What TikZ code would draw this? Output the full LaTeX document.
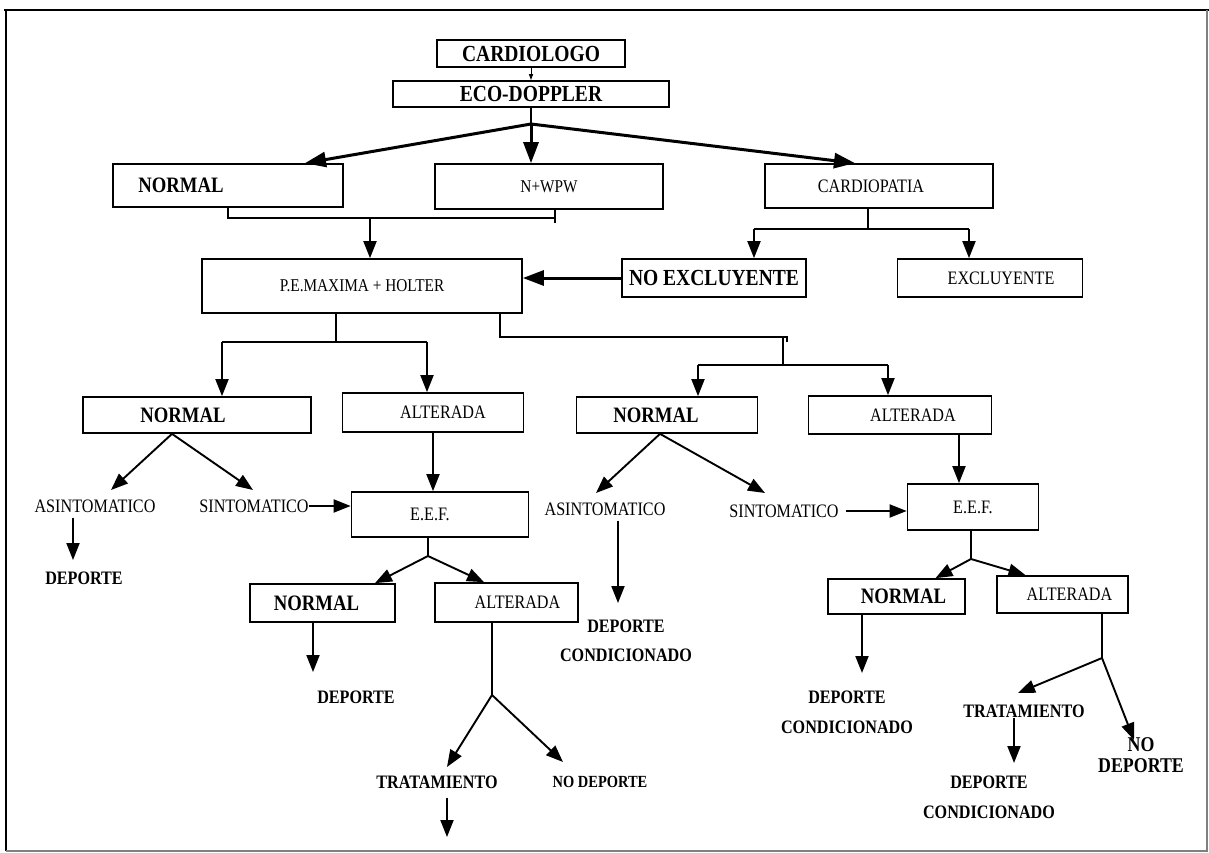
\documentclass[tikz,border=0pt]{standalone}
\usepackage{fontspec}
\setmainfont{Liberation Serif}[FakeStretch=0.85]
\usetikzlibrary{arrows.meta,calc}
\newcommand\shtxt[2]{\hspace*{#1}#2\hspace*{-#1}}
\begin{document}
\begin{tikzpicture}[x=1pt,y=-1pt,
 box/.style={draw,line width=1.7pt,inner sep=0pt},
 fb/.style={font=\fontsize{23}{26}\selectfont\bfseries},
 fn/.style={font=\fontsize{22}{25}\selectfont\bfseries},
 fr/.style={font=\fontsize{19}{22}\selectfont},
 fs/.style={font=\fontsize{18}{21}\selectfont},
 fsb/.style={font=\fontsize{19}{22}\selectfont\bfseries},
 dcond/.style={inner sep=0pt,align=center,font=\fontsize{19}{29.5}\selectfont\bfseries},
 lbl/.style={inner sep=0pt},
 ln/.style={line width=1.9pt},
 arr/.style={line width=1.9pt,-{Triangle[length=17pt,width=13pt]}},
 bigarr/.style={line width=3pt,-{Triangle[length=21pt,width=15pt]}},
 smarr/.style={line width=1pt,-{Triangle[length=6pt,width=4pt]}},
]
\useasboundingbox (0,0) rectangle (1209,853);
% frame
\draw[line width=2.5pt] (4,10) -- (1209,10);
\draw[line width=2pt] (6,10) -- (6,851);
\draw[line width=1.2pt,gray] (6,851) -- (1207,851) -- (1207,10);

% boxes
\node[box,fb,minimum width=188,minimum height=27] (card) at (531,53.5) {CARDIOLOGO};
\node[box,fb,minimum width=276,minimum height=26] (eco) at (531,94) {ECO-DOPPLER};
\node[box,fn,minimum width=230,minimum height=43] (normA) at (228,185.5) {\shtxt{-47pt}{NORMAL}};
\node[box,fs,minimum width=228,minimum height=45] (nwpw) at (549,186.5) {N+WPW};
\node[box,fr,minimum width=228,minimum height=44] (cardp) at (879,186) {\shtxt{-8pt}{CARDIOPATIA}};
\node[box,fs,minimum width=320,minimum height=54] (pe) at (362,286) {P.E.MAXIMA + HOLTER};
\node[box,fb,minimum width=184,minimum height=38] (noex) at (714,278) {NO EXCLUYENTE};
\node[box,fr,minimum width=185,minimum height=38] (excl) at (990,278) {\shtxt{11pt}{EXCLUYENTE}};
\node[box,fn,minimum width=228,minimum height=36] (normB) at (197,415) {\shtxt{-14pt}{NORMAL}};
\node[box,fr,minimum width=181,minimum height=39] (altB) at (433,412.5) {\shtxt{10pt}{ALTERADA}};
\node[box,fn,minimum width=181,minimum height=36] (normC) at (667,415) {\shtxt{-11pt}{NORMAL}};
\node[box,fr,minimum width=183,minimum height=38] (altC) at (900,415) {\shtxt{13pt}{ALTERADA}};
\node[box,fr,minimum width=177,minimum height=45] (eef1) at (440,514.5) {\shtxt{-10pt}{E.E.F.}};
\node[box,fr,minimum width=131,minimum height=46] (eef2) at (973,507) {E.E.F.};
\node[box,fn,minimum width=145,minimum height=38] (normD) at (322.5,603) {\shtxt{-6pt}{NORMAL}};
\node[box,fr,minimum width=143,minimum height=39] (altD) at (506.5,602.5) {\shtxt{11pt}{ALTERADA}};
\node[box,fn,minimum width=137,minimum height=35] (normE) at (896.5,596.5) {\shtxt{7pt}{NORMAL}};
\node[box,fr,minimum width=131,minimum height=37] (altE) at (1062.5,594.5) {\shtxt{7pt}{ALTERADA}};

% labels
\node[lbl,fr] (asin1) at (95,506) {ASINTOMATICO};
\node[lbl,fr] (sin1) at (254,506) {SINTOMATICO};
\node[lbl,fsb] (dep1) at (84,578) {DEPORTE};
\node[lbl,fsb] (dep2) at (356,697) {DEPORTE};
\node[lbl,fsb] (trat1) at (437,782) {TRATAMIENTO};
\node[lbl,font=\fontsize{17}{20}\selectfont\bfseries] (nodep1) at (600,782) {NO DEPORTE};
\node[lbl,fr] (asin2) at (605,509) {ASINTOMATICO};
\node[lbl,fr] (sin2) at (784,511) {SINTOMATICO};
\node[dcond] (dc1) at (626,641) {DEPORTE\\CONDICIONADO};
\node[dcond] (dc2) at (847,712.5) {DEPORTE\\CONDICIONADO};
\node[lbl,fsb] (trat2) at (1024,711) {TRATAMIENTO};
\node[inner sep=0pt,align=center,font=\fontsize{21}{21}\selectfont\bfseries] (nodep2) at (1141,755) {NO\\DEPORTE};
\node[dcond] (dc3) at (989,797.5) {DEPORTE\\CONDICIONADO};

% coordinates
\coordinate (j0) at (531,124);
\coordinate (b1) at (228,218); \coordinate (b2) at (555,218);
\coordinate (b2e) at (555,223); \coordinate (b3) at (370,218);
\coordinate (c0) at (868,229); \coordinate (c1) at (754,229); \coordinate (c2) at (969,229);
\coordinate (d0) at (336,342); \coordinate (d1) at (222,342); \coordinate (d2) at (427,342);
\coordinate (e0) at (500,337); \coordinate (e1) at (787,337); \coordinate (e1b) at (787,342);
\coordinate (e2a) at (783,337); \coordinate (e2) at (783,365);
\coordinate (e3) at (698,365); \coordinate (e4) at (888,365);
\coordinate (f0) at (172,433); \coordinate (f1) at (111,490); \coordinate (f2) at (253,490);
\coordinate (g1) at (73,560);
\coordinate (k0) at (428,556);
\coordinate (m1) at (313,672);
\coordinate (p0) at (492,695); \coordinate (p1) at (447,767); \coordinate (p2) at (563,762);
\coordinate (q1) at (447,837);
\coordinate (h0) at (660,433); \coordinate (h1) at (596,493); \coordinate (h2) at (765,493);
\coordinate (r1) at (618,603);
\coordinate (s0) at (959,450);
\coordinate (u0) at (971,559);
\coordinate (v1) at (862,673);
\coordinate (w0) at (1102,658); \coordinate (w1) at (1018,693); \coordinate (w2) at (1134,740);
\coordinate (x1) at (1014,763);

% connectors
\draw[smarr] (card) -- (eco);
\draw[line width=2pt] (eco.south) -- (j0);
\draw[bigarr] (j0) -- ([xshift=77pt]normA.north);
\draw[bigarr] (j0) -- ([xshift=-18pt]nwpw.north);
\draw[bigarr] (j0) -- ([xshift=-24pt]cardp.north);

\draw[ln] (normA.south) -- (b1) -- (b2);
\draw[ln] (nwpw.south -| b2) -- (b2e);
\draw[arr] (b3) -- (pe.north -| b3);

\draw[ln] (cardp.south -| c0) -- (c0);
\draw[ln] (c1) -- (c2);
\draw[arr] (c1) -- (noex.north -| c1);
\draw[arr] (c2) -- (excl.north -| c2);

\draw[bigarr] (noex.west) -- (noex.west -| pe.east);

\draw[ln] (pe.south -| d0) -- (d0);
\draw[ln] (d1) -- (d2);
\draw[arr] (d1) -- (normB.north -| d1);
\draw[arr] (d2) -- (altB.north -| d2);

\draw[ln] (pe.south -| e0) -- (e0) -- (e1) -- (e1b);
\draw[ln] (e2a) -- (e2);
\draw[ln] (e3) -- (e4);
\draw[arr] (e3) -- (normC.north -| e3);
\draw[arr] (e4) -- (altC.north -| e4);

\draw[arr] (normB.south -| f0) -- (f1);
\draw[arr] (normB.south -| f0) -- (f2);
\draw[arr] (sin1.east) -- (eef1.west |- sin1.east);
\draw[arr,shorten <=5pt] (asin1.south -| g1) -- (g1);
\draw[arr] (altB.south) -- (altB.south |- eef1.north);
\draw[ln] (eef1.south -| k0) -- (k0);
\draw[arr] (k0) -- ([xshift=52.5pt]normD.north);
\draw[arr] (k0) -- ([xshift=-22.5pt]altD.north);
\draw[arr] (normD.south -| m1) -- (m1);
\draw[ln] (altD.south -| p0) -- (p0);
\draw[arr] (p0) -- (p1);
\draw[arr] (p0) -- (p2);
\draw[arr,shorten <=9pt] (trat1.south -| q1) -- (q1);

\draw[arr] (normC.south -| h0) -- (h1);
\draw[arr] (normC.south -| h0) -- (h2);
\draw[arr,shorten <=7pt] (sin2.east) -- (eef2.west |- sin2.east);
\draw[arr,shorten <=5pt] (asin2.south -| r1) -- (r1);
\draw[arr] (altC.south -| s0) -- (eef2.north -| s0);
\draw[ln] (eef2.south -| u0) -- (u0);
\draw[arr] (u0) -- ([xshift=39pt]normE.north);
\draw[arr] (u0) -- ([xshift=-37pt]altE.north);
\draw[arr] (normE.south -| v1) -- (v1);
\draw[ln] (altE.south -| w0) -- (w0);
\draw[arr] (w0) -- (w1);
\draw[arr] (w0) -- (w2);
\draw[arr] (trat2.south -| x1) -- (x1);
\end{tikzpicture}
\end{document}
